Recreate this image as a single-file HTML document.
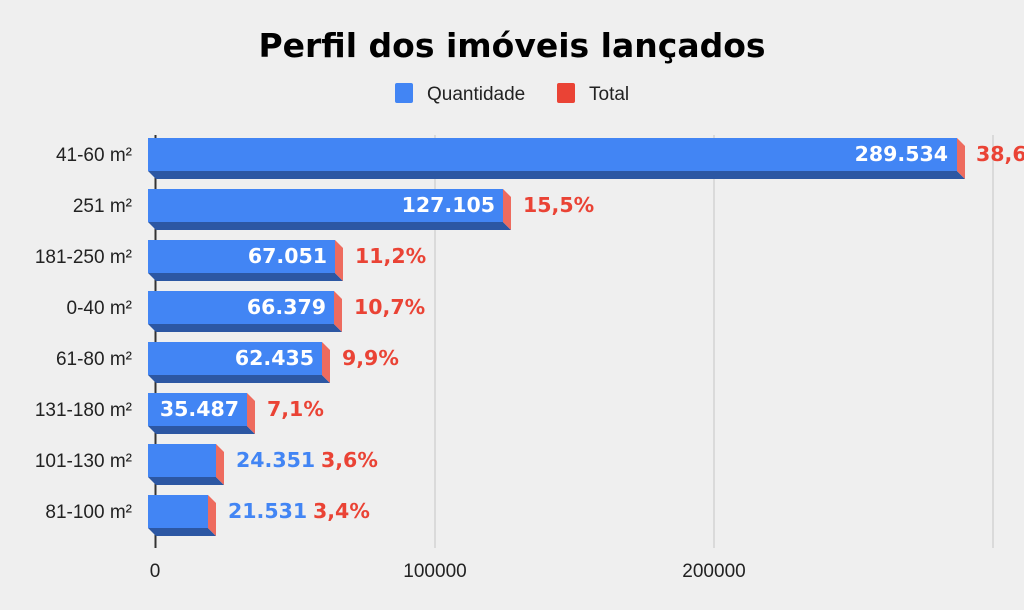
<!DOCTYPE html>
<html><head><meta charset="utf-8"><style>
body{margin:0;background:#efefef;}
svg{display:block}
.c{font-family:"Liberation Sans",sans-serif;font-size:19px;fill:#222}
.v{font-family:"DejaVu Sans",sans-serif;font-weight:bold;font-size:20.5px}
</style></head><body>
<svg width="1024" height="610" xmlns="http://www.w3.org/2000/svg">
<rect width="1024" height="610" fill="#efefef"/>
<text x="512" y="57" text-anchor="middle" font-family="DejaVu Sans,sans-serif" font-weight="bold" font-size="33" fill="#000">Perfil dos imóveis lançados</text>
<rect x="395" y="83" width="18" height="20" rx="2" fill="#4285f4"/>
<text x="427" y="100" class="c">Quantidade</text>
<rect x="557" y="83" width="18" height="20" rx="2" fill="#ea4335"/>
<text x="589" y="100" class="c">Total</text>
<g stroke="#c4c4c4" stroke-width="1">
<line x1="435" y1="135" x2="435" y2="548"/><line x1="714" y1="135" x2="714" y2="548"/><line x1="993" y1="135" x2="993" y2="548"/>
</g>
<line x1="155.5" y1="135" x2="155.5" y2="548" stroke="#333" stroke-width="2"/>
<g class="c" text-anchor="middle"><text x="155" y="577">0</text><text x="435" y="577">100000</text><text x="714" y="577">200000</text></g>
<g class="c" text-anchor="end">
<text x="132" y="161">41-60 m²</text><text x="132" y="212">251 m²</text><text x="132" y="263">181-250 m²</text><text x="132" y="314">0-40 m²</text><text x="132" y="365">61-80 m²</text><text x="132" y="416">131-180 m²</text><text x="132" y="467">101-130 m²</text><text x="132" y="518">81-100 m²</text>
</g>
<g>
<g><polygon points="148,171 957,171 965,179 156,179" fill="#2c57a3"/><rect x="148" y="138" width="809" height="33" fill="#4285f4"/><polygon points="957,138 965,146 965,179 957,171" fill="#ee6b5e"/></g>
<g><polygon points="148,222 503,222 511,230 156,230" fill="#2c57a3"/><rect x="148" y="189" width="355" height="33" fill="#4285f4"/><polygon points="503,189 511,197 511,230 503,222" fill="#ee6b5e"/></g>
<g><polygon points="148,273 335,273 343,281 156,281" fill="#2c57a3"/><rect x="148" y="240" width="187" height="33" fill="#4285f4"/><polygon points="335,240 343,248 343,281 335,273" fill="#ee6b5e"/></g>
<g><polygon points="148,324 334,324 342,332 156,332" fill="#2c57a3"/><rect x="148" y="291" width="186" height="33" fill="#4285f4"/><polygon points="334,291 342,299 342,332 334,324" fill="#ee6b5e"/></g>
<g><polygon points="148,375 322,375 330,383 156,383" fill="#2c57a3"/><rect x="148" y="342" width="174" height="33" fill="#4285f4"/><polygon points="322,342 330,350 330,383 322,375" fill="#ee6b5e"/></g>
<g><polygon points="148,426 247,426 255,434 156,434" fill="#2c57a3"/><rect x="148" y="393" width="99" height="33" fill="#4285f4"/><polygon points="247,393 255,401 255,434 247,426" fill="#ee6b5e"/></g>
<g><polygon points="148,477 216,477 224,485 156,485" fill="#2c57a3"/><rect x="148" y="444" width="68" height="33" fill="#4285f4"/><polygon points="216,444 224,452 224,485 216,477" fill="#ee6b5e"/></g>
<g><polygon points="148,528 208,528 216,536 156,536" fill="#2c57a3"/><rect x="148" y="495" width="60" height="33" fill="#4285f4"/><polygon points="208,495 216,503 216,536 208,528" fill="#ee6b5e"/></g>
</g>
<g class="v">
<text x="948" y="161" text-anchor="end" fill="#fff">289.534</text><text x="976" y="161" fill="#ea4335">38,6%</text>
<text x="495" y="212" text-anchor="end" fill="#fff">127.105</text><text x="523" y="212" fill="#ea4335">15,5%</text>
<text x="327" y="263" text-anchor="end" fill="#fff">67.051</text><text x="355" y="263" fill="#ea4335">11,2%</text>
<text x="326" y="314" text-anchor="end" fill="#fff">66.379</text><text x="354" y="314" fill="#ea4335">10,7%</text>
<text x="314" y="365" text-anchor="end" fill="#fff">62.435</text><text x="342" y="365" fill="#ea4335">9,9%</text>
<text x="239" y="416" text-anchor="end" fill="#fff">35.487</text><text x="267" y="416" fill="#ea4335">7,1%</text>
<text x="236" y="467" fill="#4285f4">24.351</text><text x="321" y="467" fill="#ea4335">3,6%</text>
<text x="228" y="518" fill="#4285f4">21.531</text><text x="313" y="518" fill="#ea4335">3,4%</text>
</g>
</svg>
</body></html>
